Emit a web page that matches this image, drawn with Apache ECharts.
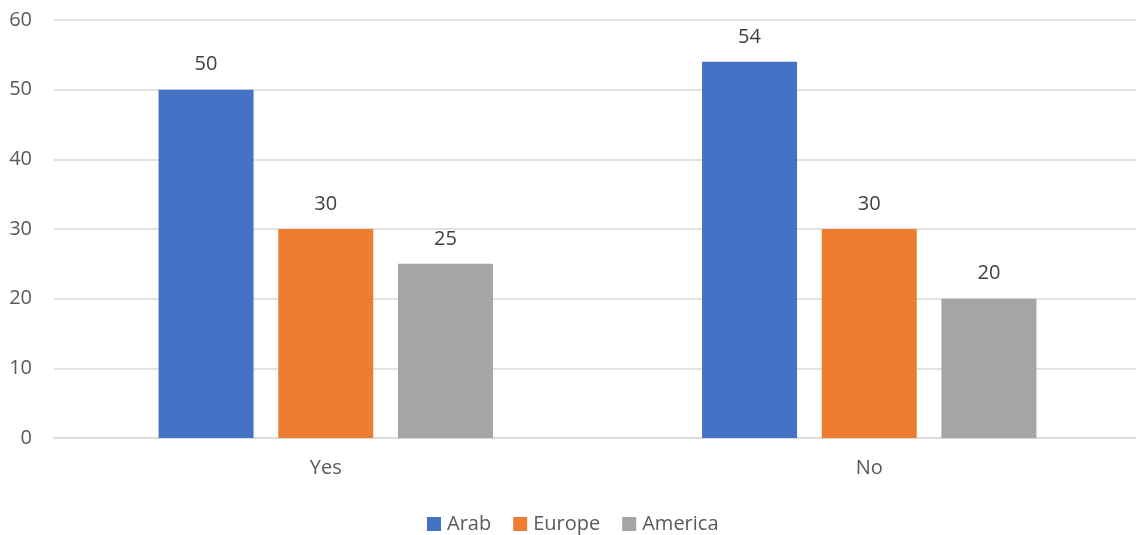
<!DOCTYPE html>
<html><head><meta charset="utf-8">
<script src="https://cdn.jsdelivr.net/npm/echarts@6/dist/echarts.min.js"></script>
<style>html,body{margin:0;padding:0;background:#fff;overflow:hidden}#c{width:1142px;height:535px}</style>
</head><body><div id="c"></div>
<script>
const categories = ['Yes', 'No'];
const arab = [50, 54];
const europe = [30, 30];
const america = [25, 20];
const seriesNames = ['Arab', 'Europe', 'America'];
const colors = ['#4472C4', '#ED7D31', '#A5A5A5'];
const FONT = 'Open Sans';
const chart = echarts.init(document.getElementById('c'), null, {renderer: 'canvas'});
const lbl = {show: true, position: 'top', distance: 15, color: '#404040', fontSize: 20, fontFamily: FONT};
chart.setOption({
  animation: false,
  color: colors,
  textStyle: {fontFamily: FONT},
  grid: {left: 54, top: 20, width: 1087, height: 418, containLabel: false},
  legend: {
    top: 514, left: 427, itemWidth: 14, itemHeight: 14, itemGap: 22, padding: 0,
    icon: 'rect',
    textStyle: {color: '#595959', fontSize: 20, fontFamily: FONT, padding: [0, 0, 0, 1]},
    data: seriesNames
  },
  xAxis: {
    type: 'category', data: categories,
    axisLine: {show: true, lineStyle: {color: '#D9D9D9', width: 1.5}},
    axisTick: {show: false},
    axisLabel: {color: '#595959', fontSize: 20, fontFamily: FONT, margin: 20}
  },
  yAxis: {
    type: 'value', min: 0, max: 60, interval: 10,
    axisLine: {show: false}, axisTick: {show: false},
    splitLine: {lineStyle: {color: '#D9D9D9', width: 1.5}},
    axisLabel: {color: '#595959', fontSize: 20, fontFamily: FONT, margin: 22}
  },
  series: [
    {name: seriesNames[0], type: 'bar', data: arab, barWidth: 95, barGap: '26%', barCategoryGap: '38%', label: lbl},
    {name: seriesNames[1], type: 'bar', data: europe, barWidth: 95, barGap: '26%', label: lbl},
    {name: seriesNames[2], type: 'bar', data: america, barWidth: 95, barGap: '26%', label: lbl}
  ]
});
</script></body></html>
